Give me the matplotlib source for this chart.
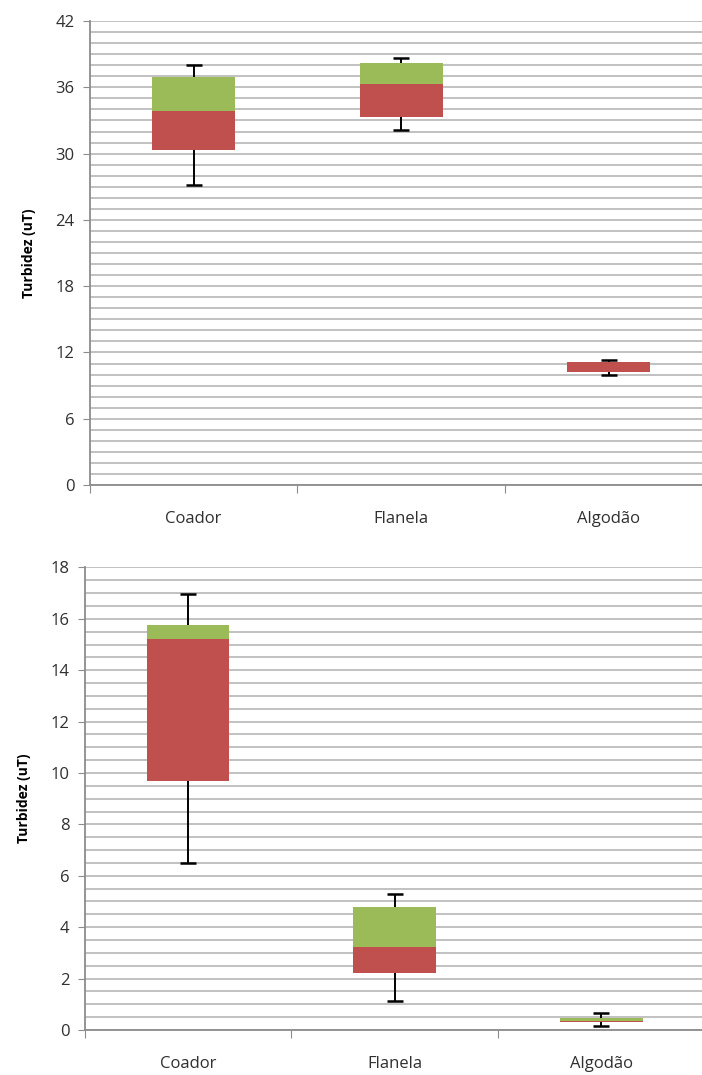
import numpy as np
import matplotlib.pyplot as plt
from matplotlib.ticker import MultipleLocator

plt.rcParams['font.family'] = ['Open Sans', 'DejaVu Sans']

categories = ['Coador', 'Flanela', 'Algodão']

# painel superior
top_min = [27.2, 32.1, 10.0]
top_q1 = [30.3, 33.3, 10.25]
top_med = [33.85, 36.3, 11.1]
top_q3 = [36.9, 38.2, 11.15]
top_max = [38.0, 38.7, 11.3]

# painel inferior
bot_min = [6.5, 1.14, 0.17]
bot_q1 = [9.7, 2.2, 0.30]
bot_med = [15.2, 3.24, 0.33]
bot_q3 = [15.75, 4.78, 0.48]
bot_max = [16.95, 5.28, 0.65]

red = '#C0504D'
green = '#9BBB59'
grid_col = '#bcbcbc'
axis_col = '#8c8c8c'

fig = plt.figure(figsize=(7.02, 10.75), dpi=100)
ax1 = fig.add_axes([0.128, 0.5488, 0.887, 0.4316])
ax2 = fig.add_axes([0.121, 0.0419, 0.8825, 0.4302])


def draw_box(ax, wmin, q1, med, q3, wmax, ymax, major, minor):
    x = np.arange(len(categories))
    q1 = np.array(q1)
    med = np.array(med)
    q3 = np.array(q3)
    ax.bar(x, med - q1, bottom=q1, width=0.4, color=red, zorder=3)
    ax.bar(x, q3 - med, bottom=med, width=0.4, color=green, zorder=3)
    # whiskers
    ax.vlines(x, q3, wmax, color='black', lw=1.4, zorder=4)
    ax.vlines(x, wmin, q1, color='black', lw=1.4, zorder=4)
    ax.plot(x, wmax, ls='none', marker='_', ms=11, mew=1.8, color='black', zorder=4)
    ax.plot(x, wmin, ls='none', marker='_', ms=11, mew=1.8, color='black', zorder=4)

    ax.set_xlim(-0.5, 2.5)
    ax.set_ylim(0, ymax)
    ax.yaxis.set_major_locator(MultipleLocator(major))
    ax.yaxis.set_minor_locator(MultipleLocator(minor))
    ax.grid(axis='y', which='both', color=grid_col, lw=1.3, zorder=0)
    ax.tick_params(axis='y', which='minor', length=0)
    ax.tick_params(axis='y', which='major', length=5, color=axis_col,
                   labelsize=12, labelcolor='#303030', pad=6)

    ax.set_xticks([-0.5, 0.5, 1.5, 2.5])
    ax.set_xticklabels([])
    ax.set_xticks(x, minor=True)
    ax.set_xticklabels(categories, minor=True)
    ax.tick_params(axis='x', which='major', length=6, color=axis_col)
    ax.tick_params(axis='x', which='minor', length=0, labelsize=12,
                   labelcolor='#303030', pad=19)

    for s in ['top', 'right']:
        ax.spines[s].set_visible(False)
    for s in ['left', 'bottom']:
        ax.spines[s].set_color(axis_col)
        ax.spines[s].set_linewidth(1.3)
    ax.set_ylabel('Turbidez (uT)', fontsize=10, fontweight='bold', labelpad=14)


draw_box(ax1, top_min, top_q1, top_med, top_q3, top_max, 42, 6, 1)
draw_box(ax2, bot_min, bot_q1, bot_med, bot_q3, bot_max, 18, 2, 0.5)

fig.savefig('out.png', dpi=100)
